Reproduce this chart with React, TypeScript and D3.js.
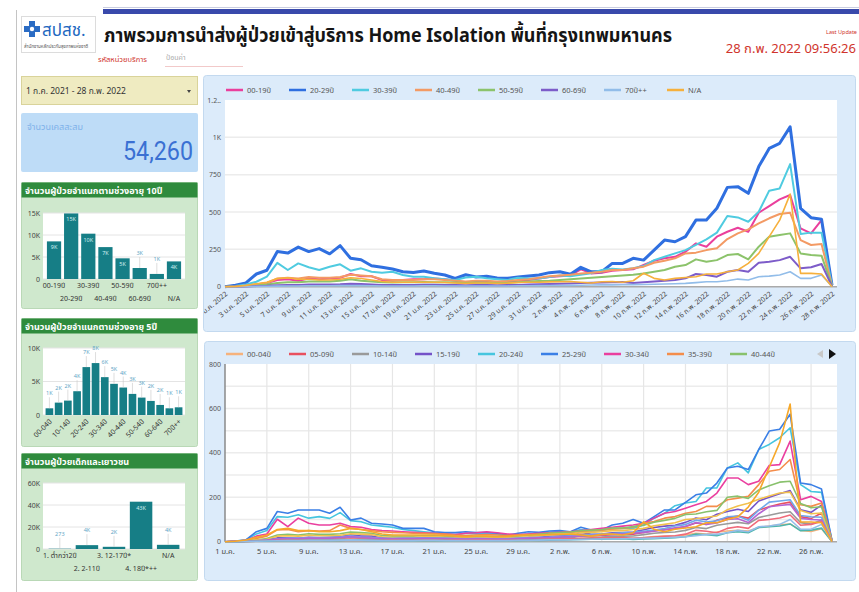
import React, { useEffect, useRef } from 'react';
import * as d3 from 'd3';

const FONT = "'Noto Sans Thai', 'Noto Sans', Roboto, sans-serif";

const thaiMonths = ['ม.ค.', 'ก.พ.'];
const days = d3.timeDay.range(new Date(2022, 0, 1), new Date(2022, 2, 1));

// bar charts
const age10Labels = ['00-19ปี', '20-29ปี', '30-39ปี', '40-49ปี', '50-59ปี', '60-69ปี', '70ปี++', 'N/A'];
const age10Totals = [8550, 14900, 10300, 7250, 4700, 2500, 1150, 4000];

const age5Labels = ['00-04ปี', '05-09ปี', '10-14ปี', '15-19ปี', '20-24ปี', '25-29ปี', '30-34ปี', '35-39ปี',
  '40-44ปี', '45-49ปี', '50-54ปี', '55-59ปี', '60-64ปี', '65-69ปี', '70ปี++'];
const age5Totals = [1000, 1850, 2150, 3550, 7150, 7750, 5650, 4650, 4100, 3150, 2600, 2100, 1500, 1000, 1150];

const kidLabels = ['1. ต่ำกว่า2ปี', '2. 2-11ปี', '3. 12-17ปี*', '4. 18ปี*++', 'N/A'];
const kidTotals = [273, 3500, 2000, 43000, 3800];

// daily, 10-year groups (1 ม.ค. - 28 ก.พ. 2022)
const d00_19 = [0, 2, 5, 15, 25, 45, 50, 40, 55, 50, 55, 60, 85, 70, 70, 45, 40, 45, 50, 50, 55, 50, 40, 30, 35, 35, 30, 35, 40, 45,
  55, 65, 70, 75, 116, 89, 94, 107, 112, 116, 145, 174, 190, 200, 234, 290, 268, 335, 368, 395, 368, 495, 540, 585, 614, 390, 357, 446, 5];
const d20_29 = [0, 10, 25, 85, 110, 235, 225, 265, 235, 255, 220, 275, 190, 180, 140, 130, 118, 100, 95, 105, 90, 78, 55, 80, 65, 70, 58, 56, 65, 72,
  78, 94, 100, 83, 130, 100, 100, 156, 156, 190, 178, 245, 312, 301, 335, 446, 446, 525, 665, 670, 625, 804, 926, 960, 1070, 525, 462, 451, 10];
const d30_39 = [0, 5, 15, 33, 67, 160, 112, 156, 130, 112, 134, 150, 107, 123, 100, 94, 100, 78, 67, 67, 56, 50, 45, 62, 67, 56, 50, 45, 60, 55,
  55, 65, 75, 70, 80, 90, 112, 120, 116, 123, 138, 178, 200, 223, 245, 280, 317, 362, 473, 464, 435, 502, 643, 658, 821, 353, 362, 362, 10];
const d40_49 = [0, 2, 8, 15, 25, 55, 60, 55, 65, 60, 60, 65, 80, 75, 70, 50, 45, 45, 45, 50, 50, 45, 40, 35, 40, 40, 35, 38, 45, 50,
  60, 70, 75, 80, 89, 94, 100, 112, 112, 123, 134, 160, 174, 190, 223, 228, 245, 257, 319, 357, 384, 424, 458, 487, 495, 312, 279, 286, 5];
const d50_59 = [0, 1, 4, 8, 15, 25, 30, 30, 35, 35, 35, 40, 50, 40, 35, 30, 28, 30, 30, 32, 30, 30, 28, 25, 28, 27, 25, 26, 30, 35,
  38, 40, 45, 50, 55, 60, 65, 70, 75, 80, 89, 100, 112, 134, 145, 183, 167, 178, 212, 219, 183, 268, 335, 346, 357, 223, 212, 208, 3];
const d60_69 = [0, 1, 2, 4, 6, 10, 12, 12, 15, 14, 14, 16, 20, 18, 15, 12, 11, 12, 12, 13, 13, 12, 11, 10, 11, 11, 10, 11, 12, 14,
  16, 18, 20, 22, 25, 27, 28, 30, 32, 25, 30, 35, 40, 45, 56, 85, 78, 67, 100, 112, 100, 160, 167, 178, 200, 123, 130, 152, 2];
const d70up = [0, 0, 1, 2, 3, 4, 5, 5, 6, 6, 6, 7, 8, 7, 6, 5, 5, 5, 5, 6, 6, 5, 5, 5, 5, 5, 5, 5, 6, 6,
  7, 8, 8, 9, 10, 11, 12, 12, 13, 14, 15, 16, 18, 20, 22, 27, 33, 33, 40, 51, 45, 67, 71, 78, 100, 56, 56, 78, 1];
const dNA = [0, 2, 8, 20, 30, 55, 60, 50, 50, 45, 45, 50, 60, 55, 45, 35, 30, 30, 30, 30, 30, 28, 25, 22, 25, 25, 22, 24, 28, 30,
  30, 32, 33, 35, 30, 25, 33, 35, 30, 40, 90, 56, 45, 56, 62, 67, 85, 85, 100, 112, 156, 223, 335, 446, 620, 89, 89, 85, 0];

// daily, 5-year groups
const d00_04 = [0, 0, 1, 2, 3, 6, 7, 5, 7, 6, 7, 8, 11, 9, 9, 6, 5, 6, 6, 6, 7, 6, 5, 4, 5, 5, 4, 5, 5, 6,
  7, 8, 9, 10, 15, 12, 12, 14, 15, 15, 19, 23, 25, 26, 30, 38, 35, 44, 48, 51, 48, 64, 70, 76, 80, 51, 46, 58, 1];
const d05_09 = [0, 1, 2, 5, 8, 14, 15, 12, 16, 15, 16, 18, 25, 20, 20, 14, 12, 14, 15, 15, 16, 15, 12, 9, 10, 10, 9, 10, 12, 14,
  16, 19, 20, 22, 33, 26, 28, 31, 33, 34, 42, 50, 55, 58, 68, 84, 78, 97, 106, 115, 106, 143, 157, 170, 178, 113, 104, 129, 2];
const d10_14 = [0, 0, 1, 3, 5, 10, 11, 9, 12, 11, 12, 13, 19, 15, 15, 10, 9, 10, 11, 11, 12, 11, 9, 7, 8, 8, 7, 8, 9, 10,
  12, 14, 15, 17, 26, 20, 21, 24, 25, 26, 32, 38, 42, 44, 51, 64, 59, 74, 81, 87, 81, 109, 119, 129, 135, 86, 79, 98, 1];
const d15_19 = [0, 1, 2, 5, 9, 17, 18, 15, 20, 18, 20, 22, 31, 26, 26, 17, 15, 17, 18, 18, 20, 18, 15, 11, 13, 13, 11, 13, 15, 17,
  20, 24, 26, 28, 43, 33, 35, 40, 41, 43, 54, 64, 70, 74, 87, 107, 99, 124, 136, 146, 136, 183, 200, 216, 230, 144, 132, 165, 2];
const d20_24 = [0, 3, 8, 35, 50, 113, 110, 121, 106, 113, 105, 131, 95, 90, 75, 70, 65, 55, 50, 45, 40, 36, 32, 38, 35, 34, 32, 28, 32, 35,
  38, 42, 45, 42, 55, 47, 50, 60, 60, 60, 75, 106, 128, 162, 174, 181, 242, 242, 332, 355, 310, 415, 438, 468, 513, 257, 226, 222, 5];
const d25_29 = [0, 3, 8, 45, 60, 136, 128, 143, 143, 143, 128, 155, 98, 106, 83, 80, 75, 60, 60, 60, 45, 41, 41, 45, 41, 41, 38, 30, 38, 45,
  42, 48, 50, 45, 65, 53, 53, 75, 83, 100, 83, 113, 143, 143, 177, 211, 219, 264, 332, 340, 325, 415, 498, 506, 574, 264, 257, 237, 5];
const d30_34 = [0, 2, 6, 25, 35, 101, 68, 106, 83, 75, 75, 83, 68, 65, 55, 50, 48, 45, 42, 40, 38, 35, 32, 38, 40, 45, 40, 35, 32, 35,
  38, 40, 42, 45, 50, 55, 60, 65, 70, 75, 83, 106, 128, 136, 151, 166, 181, 219, 287, 287, 257, 272, 343, 347, 453, 189, 204, 181, 5];
const d35_39 = [0, 2, 5, 15, 25, 53, 55, 45, 50, 48, 50, 75, 60, 55, 50, 45, 42, 40, 38, 38, 36, 34, 30, 28, 30, 32, 30, 28, 30, 32,
  35, 38, 40, 42, 45, 48, 52, 56, 60, 65, 83, 91, 106, 113, 128, 136, 159, 159, 189, 196, 204, 257, 317, 325, 370, 166, 159, 174, 5];
const d40_44 = [0, 1, 4, 8, 14, 30, 33, 30, 36, 33, 33, 36, 44, 41, 38, 28, 25, 25, 25, 28, 28, 25, 22, 19, 22, 22, 19, 21, 25, 28,
  33, 38, 41, 44, 49, 52, 55, 62, 62, 68, 74, 88, 96, 105, 123, 125, 135, 141, 200, 205, 195, 233, 252, 268, 272, 172, 153, 157, 3];
const d45_49 = [0, 1, 4, 7, 11, 25, 27, 25, 29, 27, 27, 29, 36, 34, 32, 22, 20, 20, 20, 22, 22, 20, 18, 16, 18, 18, 16, 17, 20, 22,
  27, 32, 34, 36, 40, 42, 45, 50, 50, 55, 60, 72, 78, 85, 100, 103, 110, 116, 144, 161, 173, 191, 206, 219, 223, 140, 126, 129, 2];
const d50_54 = [0, 1, 2, 4, 8, 13, 16, 16, 19, 19, 19, 21, 27, 21, 19, 16, 15, 16, 16, 17, 16, 16, 15, 13, 15, 14, 13, 14, 16, 19,
  20, 21, 24, 27, 29, 32, 34, 37, 40, 42, 47, 53, 59, 71, 77, 97, 89, 94, 112, 116, 97, 142, 178, 183, 189, 118, 112, 110, 2];
const d55_59 = [0, 0, 2, 4, 7, 12, 14, 14, 16, 16, 16, 19, 23, 19, 16, 14, 13, 14, 14, 15, 14, 14, 13, 12, 13, 13, 12, 12, 14, 16,
  18, 19, 21, 23, 26, 28, 31, 33, 35, 38, 42, 47, 53, 63, 68, 86, 78, 84, 100, 103, 86, 126, 157, 163, 168, 105, 100, 98, 1];
const d60_64 = [0, 1, 1, 2, 4, 6, 7, 7, 9, 8, 8, 10, 12, 11, 9, 7, 7, 7, 7, 8, 8, 7, 7, 6, 7, 7, 6, 7, 7, 8,
  10, 11, 12, 13, 15, 16, 17, 18, 19, 15, 18, 21, 24, 27, 34, 51, 47, 40, 60, 67, 60, 96, 100, 107, 120, 74, 78, 91, 1];
const d65_69 = [0, 0, 1, 2, 2, 4, 5, 5, 6, 6, 6, 6, 8, 7, 6, 5, 4, 5, 5, 5, 5, 5, 4, 4, 4, 4, 4, 4, 5, 6,
  6, 7, 8, 9, 10, 11, 11, 12, 13, 10, 12, 14, 16, 18, 22, 34, 31, 27, 40, 45, 40, 64, 67, 71, 80, 49, 52, 61, 1];

const series10 = [d00_19, d20_29, d30_39, d40_49, d50_59, d60_69, d70up, dNA];
const names10 = ['00-19ปี', '20-29ปี', '30-39ปี', '40-49ปี', '50-59ปี', '60-69ปี', '70ปี++', 'N/A'];
const colors10 = ['#ea3f9c', '#2f6fe0', '#4fcbe0', '#f39a64', '#8cc36b', '#7d5cc9', '#92bde9', '#f6b03c'];

const series5 = [d00_04, d05_09, d10_14, d15_19, d20_24, d25_29, d30_34, d35_39, d40_44, d45_49, d50_54, d55_59, d60_64, d65_69, d70up, dNA];
const names5 = ['00-04ปี', '05-09ปี', '10-14ปี', '15-19ปี', '20-24ปี', '25-29ปี', '30-34ปี', '35-39ปี', '40-44ปี'];
const colors5 = ['#f6b27c', '#e9505f', '#9a9a9a', '#7452c8', '#46c5df', '#3a7fe6', '#ea3f9f', '#f48d4b', '#88c16c',
  '#f2c14e', '#6fa8ea', '#b565d2', '#f06a7a', '#4db6ac', '#92bde9', '#f6a82a'];

const fmtK = (v) => (v < 1000 ? String(v) : Math.round(v / 1000) + 'K');

function drawBarPanel(svg, cfg) {
  const { y, h, title, labels, values, max, ticks, plotTop, plotBottom, xMode, valueMode } = cfg;
  const g = svg.append('g');
  g.append('rect').attr('x', 21.5).attr('y', y + 0.5).attr('width', 176).attr('height', h)
    .attr('rx', 2).attr('fill', '#cfe8cd').attr('stroke', '#b9d8b6');
  g.append('rect').attr('x', 21.5).attr('y', y + 0.5).attr('width', 176).attr('height', 15).attr('fill', '#2f8b3d');
  g.append('text').attr('x', 25).attr('y', y + 12).attr('fill', '#fff').attr('font-size', 9)
    .attr('font-weight', 'bold').text(title);

  const x = d3.scaleBand().domain(labels).range([44, 184]).padding(0.17);
  const yS = d3.scaleLinear().domain([0, max]).range([plotBottom, plotTop]);

  g.append('rect').attr('x', 43).attr('y', plotTop).attr('width', 142).attr('height', plotBottom - plotTop).attr('fill', '#fff');
  ticks.forEach((t) => {
    g.append('line').attr('x1', 43).attr('x2', 185).attr('y1', yS(t)).attr('y2', yS(t))
      .attr('stroke', '#e4e4e4').attr('stroke-width', 1);
    g.append('text').attr('x', 40).attr('y', yS(t) + 2.5).attr('text-anchor', 'end')
      .attr('font-size', 7).attr('fill', '#444').text(t === 0 ? '0' : t / 1000 + 'K');
  });

  labels.forEach((lab, i) => {
    const v = values[i];
    const bx = x(lab);
    const top = yS(v);
    g.append('rect').attr('x', bx).attr('y', top).attr('width', x.bandwidth()).attr('height', plotBottom - top)
      .attr('fill', '#167e86');
    const cx = bx + x.bandwidth() / 2;
    if (valueMode === 'inside' && plotBottom - top > 12) {
      g.append('text').attr('x', cx).attr('y', top + 8).attr('text-anchor', 'middle')
        .attr('font-size', 5.5).attr('fill', '#cfeef0').text(fmtK(v));
    } else {
      const ty = Math.min(top, plotBottom) - 13;
      g.append('line').attr('x1', cx).attr('x2', cx).attr('y1', ty + 2).attr('y2', top)
        .attr('stroke', '#c8c8c8').attr('stroke-width', 0.6);
      g.append('text').attr('x', cx).attr('y', ty).attr('text-anchor', 'middle')
        .attr('font-size', 5.5).attr('fill', '#5fa6c6').text(fmtK(v));
    }
    if (xMode === 'rotate') {
      if (i % 2 === 0) {
        g.append('text').attr('transform', `translate(${cx + 3},${plotBottom + 7}) rotate(-45)`)
          .attr('text-anchor', 'end').attr('font-size', 7).attr('fill', '#333').text(lab);
      }
    } else {
      g.append('text').attr('x', cx).attr('y', plotBottom + (i % 2 === 0 ? 9 : 22)).attr('text-anchor', 'middle')
        .attr('font-size', 7).attr('fill', '#333').text(lab);
    }
  });
}

function drawLineChart(svg, cfg) {
  const { id, box, plot, yMax, yTicks, minorTicks, series, colors, widths, legendNames, legendY, xLabelEvery,
    xLabel, rotate, vGrid, arrows } = cfg;
  const g = svg.append('g');
  g.append('defs').append('clipPath').attr('id', id)
    .append('rect').attr('x', box.x + 1).attr('y', box.y + 1).attr('width', box.w - 2).attr('height', box.h - 2);
  g.append('rect').attr('x', box.x + 0.5).attr('y', box.y + 0.5).attr('width', box.w).attr('height', box.h)
    .attr('rx', 3).attr('fill', '#dcebfa').attr('stroke', '#c3d9ef');
  const inner = g.append('g').attr('clip-path', `url(#${id})`);

  const x = d3.scaleLinear().domain([0, days.length - 1]).range([plot.x0, plot.x1]);
  const y = d3.scaleLinear().domain([0, yMax]).range([plot.y1, plot.y0]);

  inner.append('rect').attr('x', plot.x0).attr('y', plot.y0).attr('width', plot.x1 - plot.x0 + 5)
    .attr('height', plot.y1 - plot.y0).attr('fill', '#fff');
  minorTicks.forEach((t) => {
    inner.append('line').attr('x1', plot.x0).attr('x2', plot.x1 + 5).attr('y1', y(t)).attr('y2', y(t))
      .attr('stroke', '#ececec').attr('stroke-width', 1.5);
  });
  if (vGrid) {
    days.forEach((d, i) => {
      if (i % xLabelEvery === 0 && i > 0) {
        inner.append('line').attr('x1', x(i)).attr('x2', x(i)).attr('y1', plot.y0).attr('y2', plot.y1)
          .attr('stroke', '#e6e6e6').attr('stroke-width', 1.2);
      }
    });
    inner.append('line').attr('x1', plot.x0).attr('x2', plot.x0).attr('y1', plot.y0).attr('y2', plot.y1)
      .attr('stroke', '#8a8a8a').attr('stroke-width', 1.5);
  }
  inner.append('line').attr('x1', plot.x0).attr('x2', plot.x1 + 5).attr('y1', plot.y1).attr('y2', plot.y1)
    .attr('stroke', '#aaa').attr('stroke-width', 1.5);

  yTicks.forEach((t) => {
    let s = t >= 1000 ? t / 1000 + 'K' : String(t);
    if (s.length > 3) s = s.slice(0, 3) + '..';
    inner.append('text').attr('x', plot.x0 - 4).attr('y', y(t) + 2.5).attr('text-anchor', 'end')
      .attr('font-size', 7).attr('fill', '#555').text(s);
  });

  days.forEach((d, i) => {
    if (i % xLabelEvery !== 0) return;
    const lab = xLabel(d);
    if (rotate) {
      inner.append('text').attr('transform', `translate(${x(i) + 3},${plot.y1 + 8}) rotate(-40)`)
        .attr('text-anchor', 'end').attr('font-size', 7).attr('fill', '#444').text(lab);
    } else {
      inner.append('text').attr('x', x(i)).attr('y', plot.y1 + 12).attr('text-anchor', 'middle')
        .attr('font-size', 7.5).attr('fill', '#444').text(lab);
    }
  });

  const line = d3.line().x((d, i) => x(i)).y((d) => y(d));
  series.forEach((s, k) => {
    inner.append('path').datum(s).attr('d', line).attr('fill', 'none')
      .attr('stroke', colors[k]).attr('stroke-width', widths[k]).attr('stroke-linejoin', 'round');
  });

  legendNames.forEach((n, k) => {
    const lx = 226 + k * 63;
    g.append('line').attr('x1', lx).attr('x2', lx + 17).attr('y1', legendY).attr('y2', legendY)
      .attr('stroke', colors[k]).attr('stroke-width', 2.5);
    g.append('text').attr('x', lx + 21).attr('y', legendY + 2.5).attr('font-size', 7.5).attr('fill', '#555').text(n);
  });
  if (arrows) {
    g.append('path').attr('d', `M823,${legendY - 4}L817,${legendY}L823,${legendY + 4}Z`).attr('fill', '#c8c8c8');
    g.append('path').attr('d', `M829,${legendY - 5}L836,${legendY}L829,${legendY + 5}Z`).attr('fill', '#111');
  }
}

const App: React.FC = () => {
  const ref = useRef<SVGSVGElement>(null);

  useEffect(() => {
    const svg = d3.select(ref.current);
    svg.selectAll('*').remove();
    svg.attr('width', 859).attr('height', 592).style('font-family', FONT);

    svg.append('rect').attr('width', 859).attr('height', 592).attr('fill', '#fff');

    // header
    svg.append('line').attr('x1', 103).attr('x2', 859).attr('y1', 7.5).attr('y2', 7.5).attr('stroke', '#c9cde0');
    svg.append('rect').attr('x', 103).attr('y', 9).attr('width', 756).attr('height', 5).attr('fill', '#3949ab');
    svg.append('line').attr('x1', 16.5).attr('x2', 16.5).attr('y1', 10).attr('y2', 592).attr('stroke', '#c4c4c4');

    svg.append('rect').attr('x', 21.5).attr('y', 16.5).attr('width', 74).attr('height', 36)
      .attr('fill', '#fff').attr('stroke', '#dcdcdc');
    svg.append('path').attr('d', 'M29,21h6v5h5v6h-5v5h-6v-5h-5v-6h5z').attr('fill', '#2b6cc4');
    svg.append('circle').attr('cx', 32).attr('cy', 29).attr('r', 2.2).attr('fill', '#fff');
    svg.append('text').attr('x', 42).attr('y', 36).attr('font-size', 17).attr('fill', '#2167c0').text('สปสช.');
    svg.append('text').attr('x', 24).attr('y', 48).attr('font-size', 4.5).attr('fill', '#555')
      .text('สำนักงานหลักประกันสุขภาพแห่งชาติ');

    svg.append('text').attr('x', 104).attr('y', 42).attr('font-size', 20).attr('font-weight', 'bold')
      .attr('fill', '#151515').attr('textLength', 568).attr('lengthAdjust', 'spacingAndGlyphs')
      .text('ภาพรวมการนำส่งผู้ป่วยเข้าสู่บริการ Home Isolation พื้นที่กรุงเทพมหานคร');
    svg.append('text').attr('x', 98).attr('y', 62).attr('font-size', 7.5).attr('fill', '#d0342c')
      .text('รหัสหน่วยบริการ');
    svg.append('text').attr('x', 166).attr('y', 60).attr('font-size', 7).attr('fill', '#aaa').text('ป้อนค่า');
    svg.append('line').attr('x1', 165).attr('x2', 243).attr('y1', 66.5).attr('y2', 66.5).attr('stroke', '#f2c9c9');

    svg.append('text').attr('x', 826).attr('y', 34).attr('font-size', 5.5).attr('fill', '#d0342c').text('Last Update');
    svg.append('text').attr('x', 856).attr('y', 53).attr('text-anchor', 'end').attr('font-size', 13)
      .attr('font-family', "'Liberation Sans Narrow', 'Noto Sans Thai', sans-serif")
      .attr('fill', '#d0342c').text('28 ก.พ. 2022 09:56:26');

    // filter + scorecard
    svg.append('rect').attr('x', 21.5).attr('y', 76.5).attr('width', 176).attr('height', 28)
      .attr('fill', '#efebc1').attr('stroke', '#d9d39a');
    svg.append('text').attr('x', 26).attr('y', 94).attr('font-size', 8.5).attr('fill', '#333')
      .text('1 ก.ค. 2021 - 28 ก.พ. 2022');
    svg.append('path').attr('d', 'M187,90h4l-2,3z').attr('fill', '#444');

    svg.append('rect').attr('x', 21).attr('y', 113).attr('width', 177).attr('height', 59).attr('rx', 2).attr('fill', '#bedcf7');
    svg.append('text').attr('x', 27).attr('y', 130).attr('font-size', 9).attr('fill', '#7fb2ea').text('จำนวนเคสสะสม');
    svg.append('text').attr('x', 193).attr('y', 160).attr('text-anchor', 'end').attr('font-size', 26)
      .attr('font-family', 'Roboto, sans-serif').attr('fill', '#3a70d3')
      .attr('textLength', 70).attr('lengthAdjust', 'spacingAndGlyphs').text('54,260');

    drawBarPanel(svg, {
      y: 182, h: 126, title: 'จำนวนผู้ป่วยจำแนกตามช่วงอายุ 10ปี', labels: age10Labels, values: age10Totals,
      max: 15000, ticks: [0, 5000, 10000, 15000], plotTop: 213, plotBottom: 279, xMode: 'rows', valueMode: 'inside',
    });
    drawBarPanel(svg, {
      y: 318, h: 128, title: 'จำนวนผู้ป่วยจำแนกตามช่วงอายุ 5ปี', labels: age5Labels, values: age5Totals,
      max: 10000, ticks: [0, 5000, 10000], plotTop: 348, plotBottom: 415, xMode: 'rotate', valueMode: 'above',
    });
    drawBarPanel(svg, {
      y: 453, h: 127, title: 'จำนวนผู้ป่วยเด็กและเยาวชน', labels: kidLabels, values: kidTotals,
      max: 60000, ticks: [0, 20000, 40000, 60000], plotTop: 483, plotBottom: 549, xMode: 'rows', valueMode: 'inside',
    });

    drawLineChart(svg, {
      id: 'clipTop', box: { x: 203, y: 75, w: 652, h: 256 }, plot: { x0: 225, x1: 832, y0: 100, y1: 286.7 },
      yMax: 1250, yTicks: [0, 250, 500, 750, 1000, 1250], minorTicks: [250, 500, 750, 1000],
      series: series10, colors: colors10, widths: [2, 3, 2, 2, 2, 2, 1.6, 1.6], legendNames: names10, legendY: 90,
      xLabelEvery: 2, xLabel: (d) => `${d.getDate()} ${thaiMonths[d.getMonth()]} 2022`, rotate: true, vGrid: false,
      arrows: false,
    });
    drawLineChart(svg, {
      id: 'clipBottom', box: { x: 204, y: 341, w: 651, h: 239 }, plot: { x0: 225, x1: 832, y0: 364, y1: 541.7 },
      yMax: 800, yTicks: [0, 200, 400, 600, 800], minorTicks: [100, 200, 300, 400, 500, 600, 700],
      series: series5, colors: colors5, widths: series5.map(() => 1.6), legendNames: names5, legendY: 354,
      xLabelEvery: 4, xLabel: (d) => `${d.getDate()} ${thaiMonths[d.getMonth()]}`, rotate: false, vGrid: true,
      arrows: true,
    });
  }, []);

  return <svg ref={ref} style={{ position: 'absolute', left: 0, top: 0, display: 'block' }}></svg>;
};

export default App;
